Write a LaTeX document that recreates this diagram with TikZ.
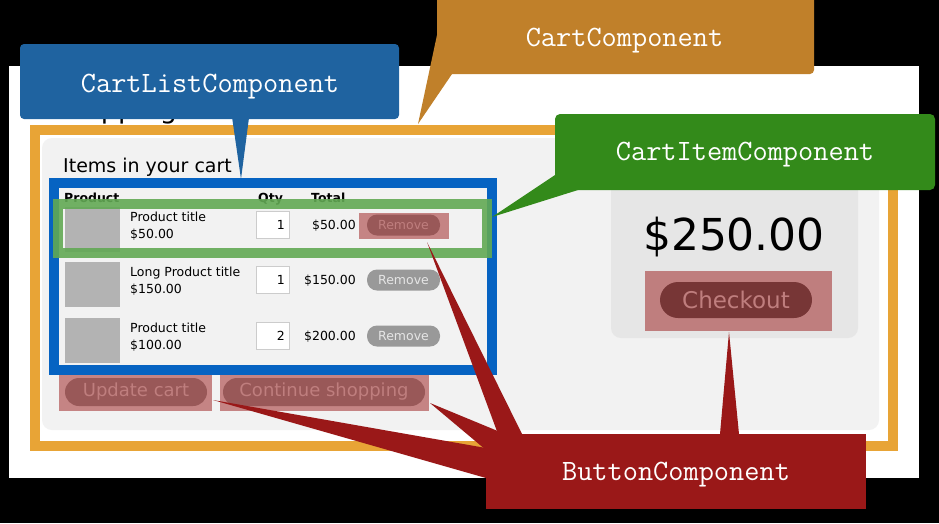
\documentclass[tikz,border=0pt]{standalone}
\usepackage{fontspec}
\setmainfont{DejaVu Sans}

\definecolor{pageorange}{HTML}{E8A436}
\definecolor{cartorange}{HTML}{C0802A}
\definecolor{listblue}{HTML}{0663C2}
\definecolor{calloutblue}{HTML}{1F63A0}
\definecolor{itemgreen}{HTML}{62A954}
\definecolor{calloutgreen}{HTML}{338A1A}
\definecolor{buttonred}{HTML}{9A1818}
\definecolor{panelgrey}{HTML}{F2F2F2}
\definecolor{summarygrey}{HTML}{E6E6E6}
\definecolor{thumbgrey}{HTML}{B3B3B3}
\definecolor{pillgrey}{HTML}{999999}
\definecolor{darkpill}{HTML}{555555}

\tikzset{
  callout/.style={inner sep=0pt, text=white, text height=17pt, text depth=0pt,
    font=\ttfamily\fontsize{29.5}{30}\selectfont},
  uitext/.style={anchor=base west, inner sep=0pt, font=\fontsize{12.5}{14}\selectfont},
  tabhead/.style={uitext, font=\bfseries\fontsize{12.5}{14}\selectfont},
  pill/.style={rounded corners=10pt, inner sep=0pt, text=black!10},
  redmask/.style={fill=buttonred, fill opacity=0.5}
}

\begin{document}
\begin{tikzpicture}[x=1pt, y=-1pt]
  \useasboundingbox (0,0) rectangle (939,523);

  % Screen and page
  \fill[black] (0,0) rectangle (939,523);
  \fill[white] (9,66) rectangle (919,478);
  \node[anchor=base west, inner sep=0pt, font=\fontsize{27}{30}\selectfont] (title) at (50,118) {Shopping cart};

  % Cart panel and frame
  \fill[panelgrey, rounded corners=10pt] (42,138) rectangle (879,430);
  \draw[pageorange, line width=10pt] (35,130) rectangle (893,446);
  \node[anchor=base west, inner sep=0pt, font=\fontsize{19}{22}\selectfont] (heading) at (63,172) {Items in your cart};

  % Table header
  \node[tabhead] (hProduct) at (64,202) {Product};
  \node[tabhead] (hQty) at (258,202) {Qty};
  \node[tabhead] (hTotal) at (311,202) {Total};

  % Rows
  \foreach \y/\ptitle/\pprice/\pqty/\ptotal [count=\i] in
      {224.5/Product title/50.00/1/50.00,
       279.5/Long Product title/150.00/1/150.00,
       335.5/Product title/100.00/2/200.00} {
    \fill[thumbgrey] (65,\y-17.5) rectangle (120,\y+27.5);
    \node[uitext] (title\i) at (130,\y-3) {\ptitle};
    \node[uitext] (price\i) at (130,\y+13.5) {\$\pprice};
    \node[draw=black!20, fill=white, minimum width=33pt, minimum height=27pt, inner sep=0pt] (qty\i) at (272.5,\y) {};
    \node[uitext, anchor=base east] (qtyval\i) at (285,\y+5) {\pqty};
    \node[uitext, anchor=base east] (total\i) at (356,\y+4.5) {\$\ptotal};
    \node[pill, fill=pillgrey, minimum width=73pt, minimum height=21pt, font=\fontsize{12.5}{14}\selectfont] (remove\i) at (403.5,\y+0.5) {Remove};
  }

  % Buttons below the list
  \node[pill, fill=pillgrey, rounded corners=14pt, minimum width=142pt, minimum height=28pt, font=\fontsize{18}{20}\selectfont] (update) at (136,392) {Update cart};
  \node[pill, fill=pillgrey, rounded corners=14pt, minimum width=202pt, minimum height=28pt, font=\fontsize{18}{20}\selectfont] (continue) at (324,392) {Continue shopping};

  % Summary
  \fill[summarygrey, rounded corners=10pt] (611,150) rectangle (858,338);
  \node[anchor=base, inner sep=0pt, font=\fontsize{44}{48}\selectfont] (grandtotal) at (734,250) {\$250.00};
  \node[pill, fill=darkpill, rounded corners=18pt, minimum width=152pt, minimum height=36pt, font=\fontsize{23}{25}\selectfont] (checkout) at (736,300) {Checkout};

  % Button highlights
  \fill[redmask] (359,213) rectangle (449,239);
  \fill[redmask] (59,375) rectangle (212,411);
  \fill[redmask] (220,375) rectangle (429,411);
  \fill[redmask] (645,271) rectangle (832,331);

  % Component frames
  \draw[listblue, line width=10pt] (54,183) rectangle (492,370);
  \draw[itemgreen, line width=10pt, opacity=0.9] (58,204) rectangle (487,253);

  % Callout tips
  \coordinate (cartTip) at (418,124);
  \coordinate (listTip) at (241,179);
  \coordinate (itemTip) at (492,217);
  \coordinate (removeTip) at (427,242);
  \coordinate (continueTip) at (430,403);
  \coordinate (updateTip) at (213,400);
  \coordinate (checkoutTip) at (729,332);

  % Callouts
  \fill[cartorange] (437,35) -- (cartTip) -- (452,74) -- (460,40) -- cycle;
  \node[callout, fill=cartorange, rounded corners=4pt, minimum width=377pt, minimum height=90pt] (cartLabel) at (625.5,29) {};
  \node[callout] (cartText) at (624.5,37.5) {CartComponent};

  \fill[calloutblue] (231,110) -- (listTip) -- (250,110) -- cycle;
  \node[callout, fill=calloutblue, rounded corners=4pt, minimum width=379pt, minimum height=75pt] (listLabel) at (209.5,81.5) {};
  \node[callout] (listText) at (210,84) {CartListComponent};

  \fill[calloutgreen] (555,175) -- (itemTip) -- (578,190) -- (575,170) -- cycle;
  \node[callout, fill=calloutgreen, rounded corners=5pt, minimum width=380pt, minimum height=76pt] (itemLabel) at (745,152) {CartItemComponent};

  \fill[buttonred] (498,434) -- (removeTip) -- (522,434) -- (510,445) -- cycle;
  \fill[buttonred] (505,434) -- (continueTip) -- (486,450) -- (500,445) -- cycle;
  \fill[buttonred] (486,448) -- (updateTip) -- (486,478) -- (495,463) -- cycle;
  \fill[buttonred] (720,434) -- (checkoutTip) -- (739,434) -- (729,440) -- cycle;
  \node[callout, fill=buttonred, minimum width=380pt, minimum height=75pt] (buttonLabel) at (676,471.5) {ButtonComponent};

\end{tikzpicture}
\end{document}
